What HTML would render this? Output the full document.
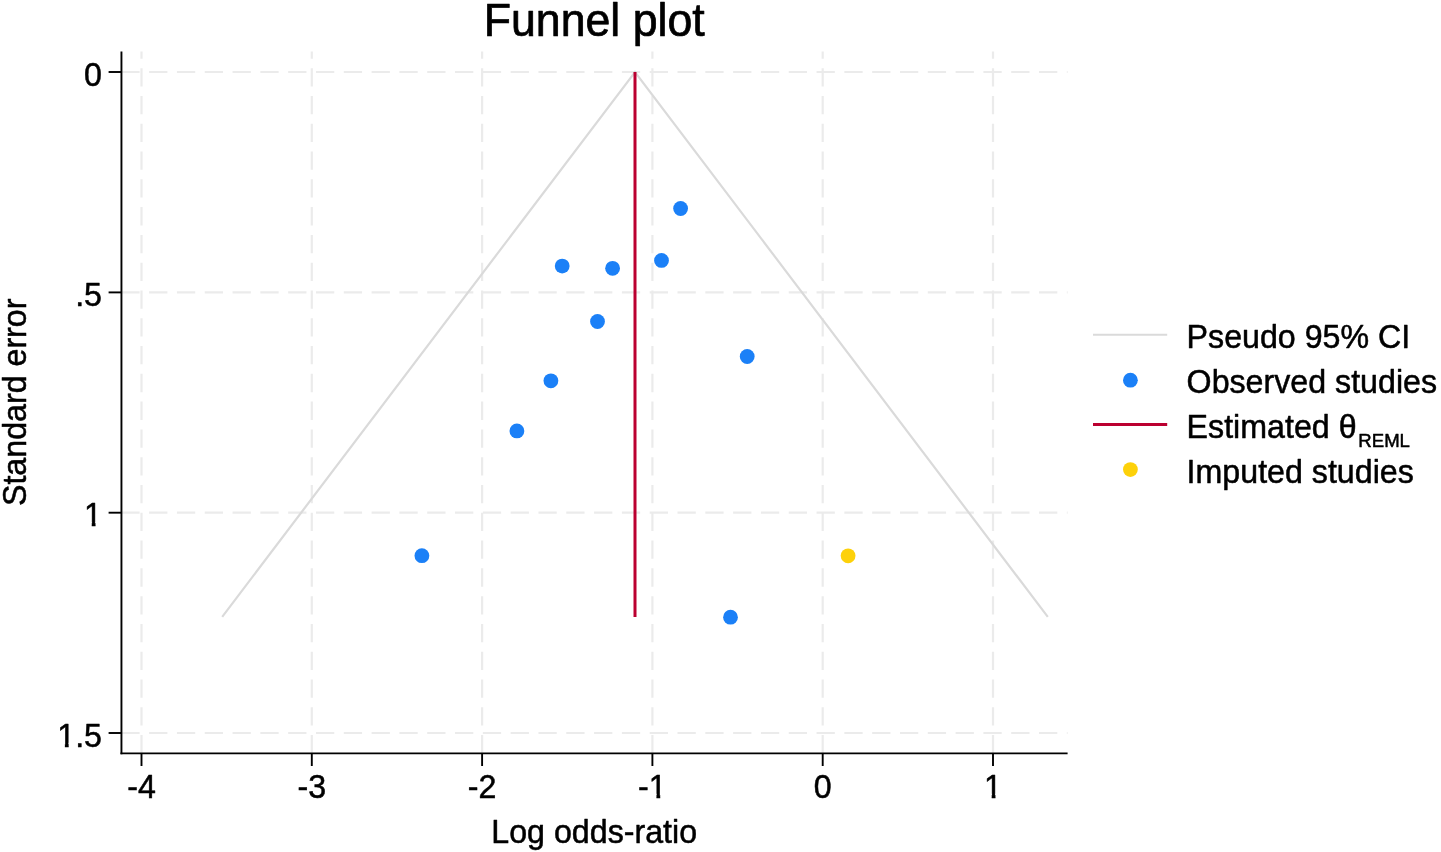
<!DOCTYPE html>
<html lang="en"><head><meta charset="utf-8"><title>Funnel plot</title>
<style>html,body{margin:0;padding:0;background:#fff;}body{width:1441px;height:852px;overflow:hidden;}svg{display:block;}text{font-family:"Liberation Sans",Arial,Helvetica,sans-serif;fill:#000;stroke:#000;stroke-width:0.5px;stroke-linejoin:round;}</style></head><body>
<svg width="1441" height="852" viewBox="0 0 1441 852">
<defs><clipPath id="nofoot"><polygon points="-60,-40 80,-40 80,4 17.5,4 17.5,-3.9 11.4,-3.9 11.4,4 7.65,4 7.65,-3.9 -60,-3.9"/></clipPath></defs>
<rect width="1441" height="852" fill="#fff"/>
<g stroke="#ebebeb" stroke-width="2.2" fill="none" stroke-dasharray="18.3 9.51">
<line x1="141.5" y1="753.4" x2="141.5" y2="51.5" stroke-dasharray="18.3 9.49"/>
<line x1="311.8" y1="753.4" x2="311.8" y2="51.5" stroke-dasharray="18.3 9.49"/>
<line x1="482.1" y1="753.4" x2="482.1" y2="51.5" stroke-dasharray="18.3 9.49"/>
<line x1="652.4" y1="753.4" x2="652.4" y2="51.5" stroke-dasharray="18.3 9.49"/>
<line x1="822.7" y1="753.4" x2="822.7" y2="51.5" stroke-dasharray="18.3 9.49"/>
<line x1="993.0" y1="753.4" x2="993.0" y2="51.5" stroke-dasharray="18.3 9.49"/>
<line x1="121.3" y1="72.0" x2="1067.6" y2="72.0"/>
<line x1="121.3" y1="292.4" x2="1067.6" y2="292.4"/>
<line x1="121.3" y1="512.7" x2="1067.6" y2="512.7"/>
<line x1="121.3" y1="733.0" x2="1067.6" y2="733.0"/>
</g>
<polyline points="222.2,616.9 635.0,72.0 1047.8,616.9" fill="none" stroke="#dadada" stroke-width="2.2" stroke-linejoin="miter"/>
<line x1="635.0" y1="72.0" x2="635.0" y2="616.9" stroke="#bb0030" stroke-width="3"/>
<g fill="#1b80f7">
<circle cx="680.6" cy="208.5" r="7.4"/>
<circle cx="661.5" cy="260.4" r="7.4"/>
<circle cx="612.6" cy="268.3" r="7.4"/>
<circle cx="562.2" cy="266.1" r="7.4"/>
<circle cx="597.5" cy="321.5" r="7.4"/>
<circle cx="747.2" cy="356.5" r="7.4"/>
<circle cx="550.9" cy="380.8" r="7.4"/>
<circle cx="516.9" cy="430.9" r="7.4"/>
<circle cx="421.9" cy="555.7" r="7.4"/>
<circle cx="730.5" cy="617.2" r="7.4"/>
</g>
<circle cx="848.1" cy="555.8" r="7.4" fill="#fdd10a"/>
<g stroke="#000" stroke-width="1.9" fill="none">
<line x1="121.45" y1="51.5" x2="121.45" y2="754.35"/>
<line x1="120.5" y1="753.4" x2="1067.6" y2="753.4"/>
<line x1="108.6" y1="72.0" x2="121.45" y2="72.0"/>
<line x1="108.6" y1="292.4" x2="121.45" y2="292.4"/>
<line x1="108.6" y1="512.7" x2="121.45" y2="512.7"/>
<line x1="108.6" y1="733.0" x2="121.45" y2="733.0"/>
<line x1="141.5" y1="753.4" x2="141.5" y2="766"/>
<line x1="311.8" y1="753.4" x2="311.8" y2="766"/>
<line x1="482.1" y1="753.4" x2="482.1" y2="766"/>
<line x1="652.4" y1="753.4" x2="652.4" y2="766"/>
<line x1="822.7" y1="753.4" x2="822.7" y2="766"/>
<line x1="993.0" y1="753.4" x2="993.0" y2="766"/>
</g>
<g font-size="32.2px">
<text transform="translate(84.10,85.7) scale(1,1.035)">0</text>
<text transform="translate(75.15,306.1) scale(1,1.035)">.5</text>
<g transform="translate(84.10,526.4) scale(1,1.035)" clip-path="url(#nofoot)"><text x="0.00" y="0">1</text></g>
<g transform="translate(57.24,746.8) scale(1,1.035)" clip-path="url(#nofoot)"><text x="0.00" y="0">1.5</text></g>
<text transform="translate(127.19,797.7) scale(1,1.035)">-4</text>
<text transform="translate(297.49,797.7) scale(1,1.035)">-3</text>
<text transform="translate(467.79,797.7) scale(1,1.035)">-2</text>
<g transform="translate(648.81,797.7) scale(1,1.035)" clip-path="url(#nofoot)"><text x="-10.72" y="0">-1</text></g>
<text transform="translate(813.75,797.7) scale(1,1.035)">0</text>
<g transform="translate(984.05,797.7) scale(1,1.035)" clip-path="url(#nofoot)"><text x="0.00" y="0">1</text></g>
<text transform="translate(594.2,842.7) scale(1,1.035)" text-anchor="middle">Log odds-ratio</text>
<text transform="translate(26.0,402.3) rotate(-90) scale(1,1.035)" text-anchor="middle">Standard error</text>
<text transform="translate(1186.6,348.3) scale(1,1.035)" text-anchor="start">Pseudo 95% CI</text>
<text transform="translate(1186.6,392.9) scale(1,1.035)" text-anchor="start">Observed studies</text>
<text transform="translate(1186.6,438.2) scale(1,1.035)" text-anchor="start">Estimated θ<tspan font-size="18.6px" dx="1.8" dy="8.6">REML</tspan></text>
<text transform="translate(1186.6,483.1) scale(1,1.035)" text-anchor="start">Imputed studies</text>
</g>
<text transform="translate(594.2,35.9) scale(1,1.015)" text-anchor="middle" font-size="44.7px" style="stroke-width:0.7px">Funnel plot</text>
<line x1="1093" y1="334.8" x2="1167.2" y2="334.8" stroke="#dadada" stroke-width="2"/>
<circle cx="1130.4" cy="380.2" r="7.4" fill="#1b80f7"/>
<line x1="1093" y1="424.5" x2="1167.2" y2="424.5" stroke="#bb0030" stroke-width="3"/>
<circle cx="1130.4" cy="469.6" r="7.4" fill="#fdd10a"/>
</svg></body></html>
